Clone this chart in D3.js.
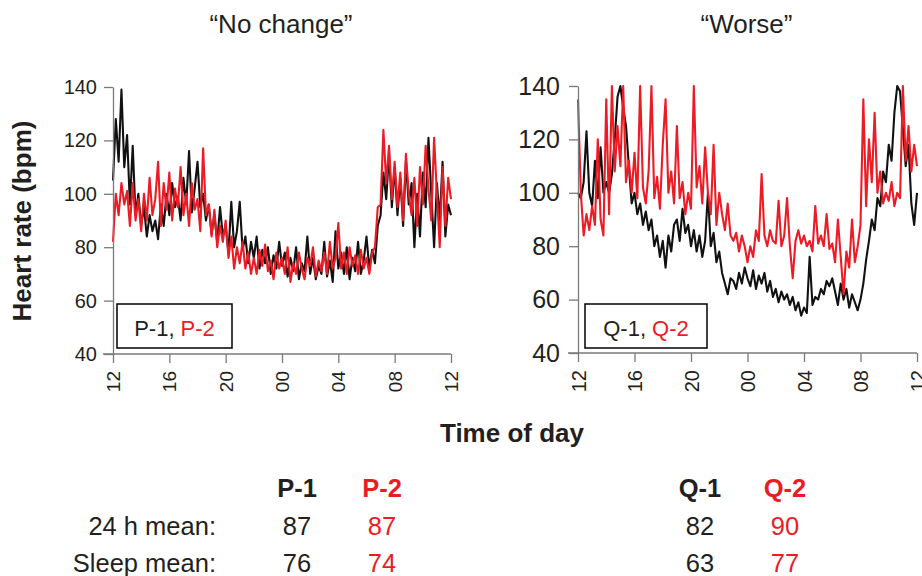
<!DOCTYPE html>
<html>
<head>
<meta charset="utf-8">
<script src="https://cdn.jsdelivr.net/npm/d3@7"></script>
<style>
  html, body { margin: 0; padding: 0; background: #fff; }
  svg { display: block; font-family: "Liberation Sans", Arial, Helvetica, sans-serif; }
</style>
</head>
<body>
<svg id="chart" width="922" height="576"></svg>
<script>
// ---------- DATA ----------
// samples every 12 minutes from 12:00 to 12:00 next day (hours 12..36)
const hours = d3.range(121).map(i => 12 + i * 0.2);
const xTickValues = [12, 16, 20, 24, 28, 32, 36];
const xTickLabels = ["12", "16", "20", "00", "04", "08", "12"];
const yTickValues = [40, 60, 80, 100, 120, 140];

const p1 = [105,128,112,139,110, 122,96,118,92,100, 88,95,84,92,86, 90,83,96,88,100,
            92,104,95,99,90, 106,96,116,93,102, 112,95,100,90,96, 85,92,82,95,84,
            88,78,97,80,86, 97,79,84,74,82, 76,84,72,79,74, 80,70,77,72,82,
            73,78,69,76,71, 80,68,74,71,84, 70,76,68,73,70, 82,69,75,67,86,
            72,78,70,80,68, 76,71,82,70,75, 84,72,79,74,88, 92,108,98,115,95,
            110,92,106,88,112, 96,104,80,100,84, 108,95,121,100,80, 104,90,112,84,96, 92];
const p2 = [82,100,92,104,96, 101,88,104,90,98, 86,100,90,106,92, 98,112,88,104,94,
            108,90,102,95,110, 92,100,88,104,94, 98,86,117,92,96, 84,94,80,88,82,
            90,76,84,72,80, 74,82,72,78,70, 76,70,79,73,81, 71,75,68,78,72,
            76,70,80,67,74, 70,78,72,68,76, 73,80,69,75,71, 78,70,82,72,76,
            89,72,78,70,80, 73,77,70,79,72, 76,70,78,80,95, 96,124,104,118,98,
            112,95,108,90,115, 100,92,106,88,110, 96,118,102,90,121, 100,80,110,88,106, 98];
const q1 = [100,98,104,123,100, 95,112,98,117,100, 104,100,107,120,136, 140,132,125,110,96,
            100,92,96,88,93, 86,90,80,84,76, 82,72,84,78,88, 90,82,94,85,88,
            80,86,78,84,76, 82,100,80,85,74, 78,70,66,62,68, 67,64,70,66,72,
            68,65,71,64,69, 66,70,63,67,61, 64,59,63,60,62, 58,61,56,59,54,
            57,55,76,58,61, 60,64,62,67,65, 68,63,58,66,60, 64,57,62,59,56,
            60,66,75,82,90, 86,98,95,108,104, 118,112,130,140,138, 124,110,118,96,88, 100];
const q2 = [135,100,84,92,86, 95,88,120,90,84, 135,92,140,108,125, 110,140,104,112,100,
            115,98,140,102,96, 108,140,98,106,94, 118,135,100,108,96, 125,98,104,92,100,
            94,140,102,110,96, 117,100,92,118,88, 100,92,86,96,84, 82,85,78,84,80,
            74,80,76,86,82, 107,84,80,86,82, 81,97,80,84,98, 80,68,82,86,81,
            84,80,82,78,95, 81,84,80,92,79, 81,74,90,76,62, 78,72,90,74,80,
            88,135,95,120,104, 130,100,108,96,100, 97,104,95,100,98, 140,112,125,108,118, 110];

const panels = [
  { title: "\u201CNo change\u201D", s1: p1, s2: p2, n1: "P-1", n2: "P-2",
    x0: 113, x1: 451, yTop: 87, yBot: 354, yFont: 20, xFont: 19,
    box: [117, 304, 115, 44] },
  { title: "\u201CWorse\u201D", s1: q1, s2: q2, n1: "Q-1", n2: "Q-2",
    x0: 578, x1: 917, yTop: 86, yBot: 353, yFont: 25, xFont: 20,
    box: [585, 304, 122, 44] }
];

const tableRows = ["24 h mean:", "Sleep mean:"];
const meansP = { p1: [87, 76], p2: [87, 74] };
const meansQ = { q1: [82, 63], q2: [90, 77] };

// ---------- DRAW ----------
const RED = "#ec1c24", BLACK = "#111111", TXT = "#231f20", AX = "#7a7a7a";
const svg = d3.select("#chart");

panels.forEach(p => {
  const x = d3.scaleLinear().domain([12, 36]).range([p.x0, p.x1]);
  const y = d3.scaleLinear().domain([40, 140]).range([p.yBot, p.yTop]);
  const g = svg.append("g");

  // title
  g.append("text").attr("x", (p.x0 + p.x1) / 2 - 1).attr("y", 33)
    .attr("text-anchor", "middle").attr("font-size", 26).attr("fill", TXT).text(p.title);

  // lines
  const line = d3.line().x((d, i) => x(hours[i])).y(d => y(d));
  g.append("path").datum(p.s1).attr("d", line).attr("fill", "none")
    .attr("stroke", BLACK).attr("stroke-width", 2.1).attr("stroke-linejoin", "round");
  g.append("path").datum(p.s2).attr("d", line).attr("fill", "none")
    .attr("stroke", RED).attr("stroke-width", 2.1).attr("stroke-linejoin", "round");

  // axes
  const xAxis = d3.axisBottom(x).tickValues(xTickValues)
    .tickFormat((d, i) => xTickLabels[i]).tickSize(9).tickSizeOuter(0);
  const gx = g.append("g").attr("transform", `translate(0,${p.yBot})`).call(xAxis);
  gx.select(".domain").attr("stroke", AX).attr("stroke-width", 1.3)
    .attr("d", `M${p.x0 - 10},0H${p.x1}`);
  gx.selectAll(".tick line").attr("stroke", AX).attr("stroke-width", 1.3);
  gx.selectAll(".tick text")
    .attr("font-size", p.xFont).attr("fill", TXT)
    .attr("font-family", "'Liberation Sans', Arial, sans-serif")
    .attr("text-anchor", "end")
    .attr("transform", "translate(0,17) rotate(-90)")
    .attr("x", 0).attr("y", 0).attr("dy", "0.35em");

  const yAxis = d3.axisLeft(y).tickValues(yTickValues).tickSize(9).tickSizeOuter(0);
  const gy = g.append("g").attr("transform", `translate(${p.x0},0)`).call(yAxis);
  gy.select(".domain").attr("stroke", AX).attr("stroke-width", 1.3);
  gy.selectAll(".tick line").attr("stroke", AX).attr("stroke-width", 1.3);
  gy.selectAll(".tick text").attr("font-size", p.yFont).attr("fill", TXT)
    .attr("font-family", "'Liberation Sans', Arial, sans-serif")
    .attr("x", p.yFont > 22 ? -18 : -16);

  // legend box
  const [bx, by, bw, bh] = p.box;
  g.append("rect").attr("x", bx).attr("y", by).attr("width", bw).attr("height", bh)
    .attr("fill", "#fff").attr("stroke", "#000").attr("stroke-width", 1.5);
  const lt = g.append("text").attr("x", bx + bw / 2).attr("y", by + 32)
    .attr("text-anchor", "middle").attr("font-size", 22);
  lt.append("tspan").attr("fill", TXT).text(p.n1 + ", ");
  lt.append("tspan").attr("fill", RED).text(p.n2);
});

// axis titles
svg.append("text").attr("transform", "translate(31,221) rotate(-90)")
  .attr("text-anchor", "middle").attr("font-size", 26).attr("font-weight", "bold")
  .attr("fill", TXT).text("Heart rate (bpm)");
svg.append("text").attr("x", 512).attr("y", 442)
  .attr("text-anchor", "middle").attr("font-size", 26).attr("font-weight", "bold")
  .attr("fill", TXT).text("Time of day");

// table
const rowY = [535, 572];
const colDefs = [
  { name: "P-1", x: 297, color: TXT, vals: meansP.p1 },
  { name: "P-2", x: 382, color: RED, vals: meansP.p2 },
  { name: "Q-1", x: 700, color: TXT, vals: meansQ.q1 },
  { name: "Q-2", x: 785, color: RED, vals: meansQ.q2 }
];
colDefs.forEach(c => {
  svg.append("text").attr("x", c.x).attr("y", 497).attr("text-anchor", "middle")
    .attr("font-size", 25.5).attr("font-weight", "bold").attr("fill", c.color).text(c.name);
  c.vals.forEach((v, i) => {
    svg.append("text").attr("x", c.x).attr("y", rowY[i]).attr("text-anchor", "middle")
      .attr("font-size", 25.5).attr("fill", c.color).text(v);
  });
});
tableRows.forEach((r, i) => {
  svg.append("text").attr("x", 216).attr("y", rowY[i]).attr("text-anchor", "end")
    .attr("font-size", 25.5).attr("fill", TXT).text(r);
});
</script>
</body>
</html>
